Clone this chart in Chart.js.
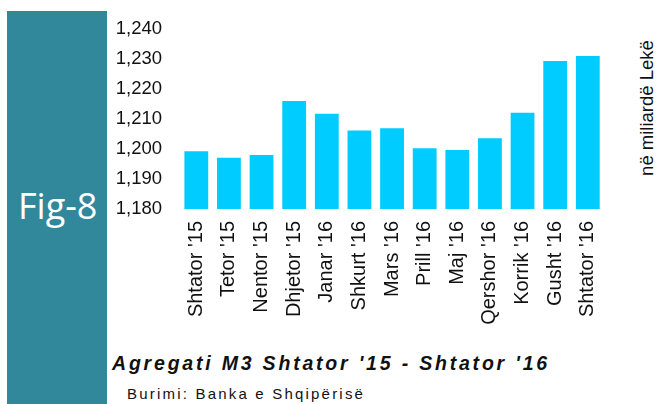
<!DOCTYPE html>
<html>
<head>
<meta charset="utf-8">
<script src="https://cdn.jsdelivr.net/npm/chart.js@4"></script>
<style>
  html, body { margin: 0; padding: 0; background: #fff; }
  body { width: 658px; height: 404px; position: relative; overflow: hidden; font-family: "Liberation Sans", Arial, sans-serif; }
  #panel { position: absolute; left: 7px; top: 11px; width: 100px; height: 393px; background: #31889a; }
  #fig { position: absolute; left: 18px; top: 183px; color: #fff; font-family: "Open Sans", sans-serif; font-size: 36px; line-height: 46px; }
  #wrap { position: absolute; left: 108px; top: 0; width: 516px; height: 340px; }
  #unit { position: absolute; left: 647px; top: 108px; transform: translate(-50%, -50%) rotate(-90deg); white-space: nowrap; font-size: 18.5px; color: #111; }
  #title { position: absolute; left: 112px; top: 351px; font-size: 19.5px; line-height: 24px; font-weight: bold; font-style: italic; letter-spacing: 2.8px; color: #111; white-space: nowrap; }
  #source { position: absolute; left: 127px; top: 385px; font-size: 15px; line-height: 18px; letter-spacing: 2.2px; color: #111; white-space: nowrap; }
</style>
</head>
<body>
<div id="panel"></div>
<div id="fig">Fig-8</div>
<div id="wrap"><canvas id="c"></canvas></div>
<div id="unit">në miliardë Lekë</div>
<div id="title">Agregati M3 Shtator '15 - Shtator '16</div>
<div id="source">Burimi: Banka e Shqipërisë</div>
<script>
const months = ["Shtator '15", "Tetor '15", "Nentor '15", "Dhjetor '15", "Janar '16", "Shkurt '16",
  "Mars '16", "Prill '16", "Maj '16", "Qershor '16", "Korrik '16", "Gusht '16", "Shtator '16"];
const m3 = [1199.3, 1197.1, 1198.0, 1216.0, 1211.8, 1206.2, 1206.9, 1200.3, 1199.7, 1203.6, 1212.1, 1229.4, 1231.0];
const yMin = 1180, yMax = 1240, yStep = 10;

new Chart(document.getElementById('c'), {
  type: 'bar',
  data: {
    labels: months,
    datasets: [{
      data: m3,
      backgroundColor: '#00ccff',
      barPercentage: 0.73,
      categoryPercentage: 1.0
    }]
  },
  options: {
    responsive: true,
    maintainAspectRatio: false,
    animation: false,
    layout: { padding: { top: 26, right: 5, bottom: 0, left: 0 } },
    plugins: { legend: { display: false }, tooltip: { enabled: false } },
    scales: {
      x: {
        grid: { display: false, drawTicks: false },
        border: { display: false },
        ticks: {
          color: '#111',
          font: { family: '"Liberation Sans Narrow", "Liberation Sans", sans-serif', size: 20 },
          minRotation: 90, maxRotation: 90, padding: 12, autoSkip: false
        },
        afterFit: s => { s.height = 131; }
      },
      y: {
        min: yMin, max: yMax,
        grid: { display: false, drawTicks: false },
        border: { display: false },
        ticks: {
          stepSize: yStep,
          color: '#111',
          padding: 18,
          font: { family: '"Liberation Sans", sans-serif', size: 18.5 },
          callback: v => v.toLocaleString('en-US')
        },
        afterFit: s => { s.width = 72; }
      }
    }
  }
});
</script>
</body>
</html>
